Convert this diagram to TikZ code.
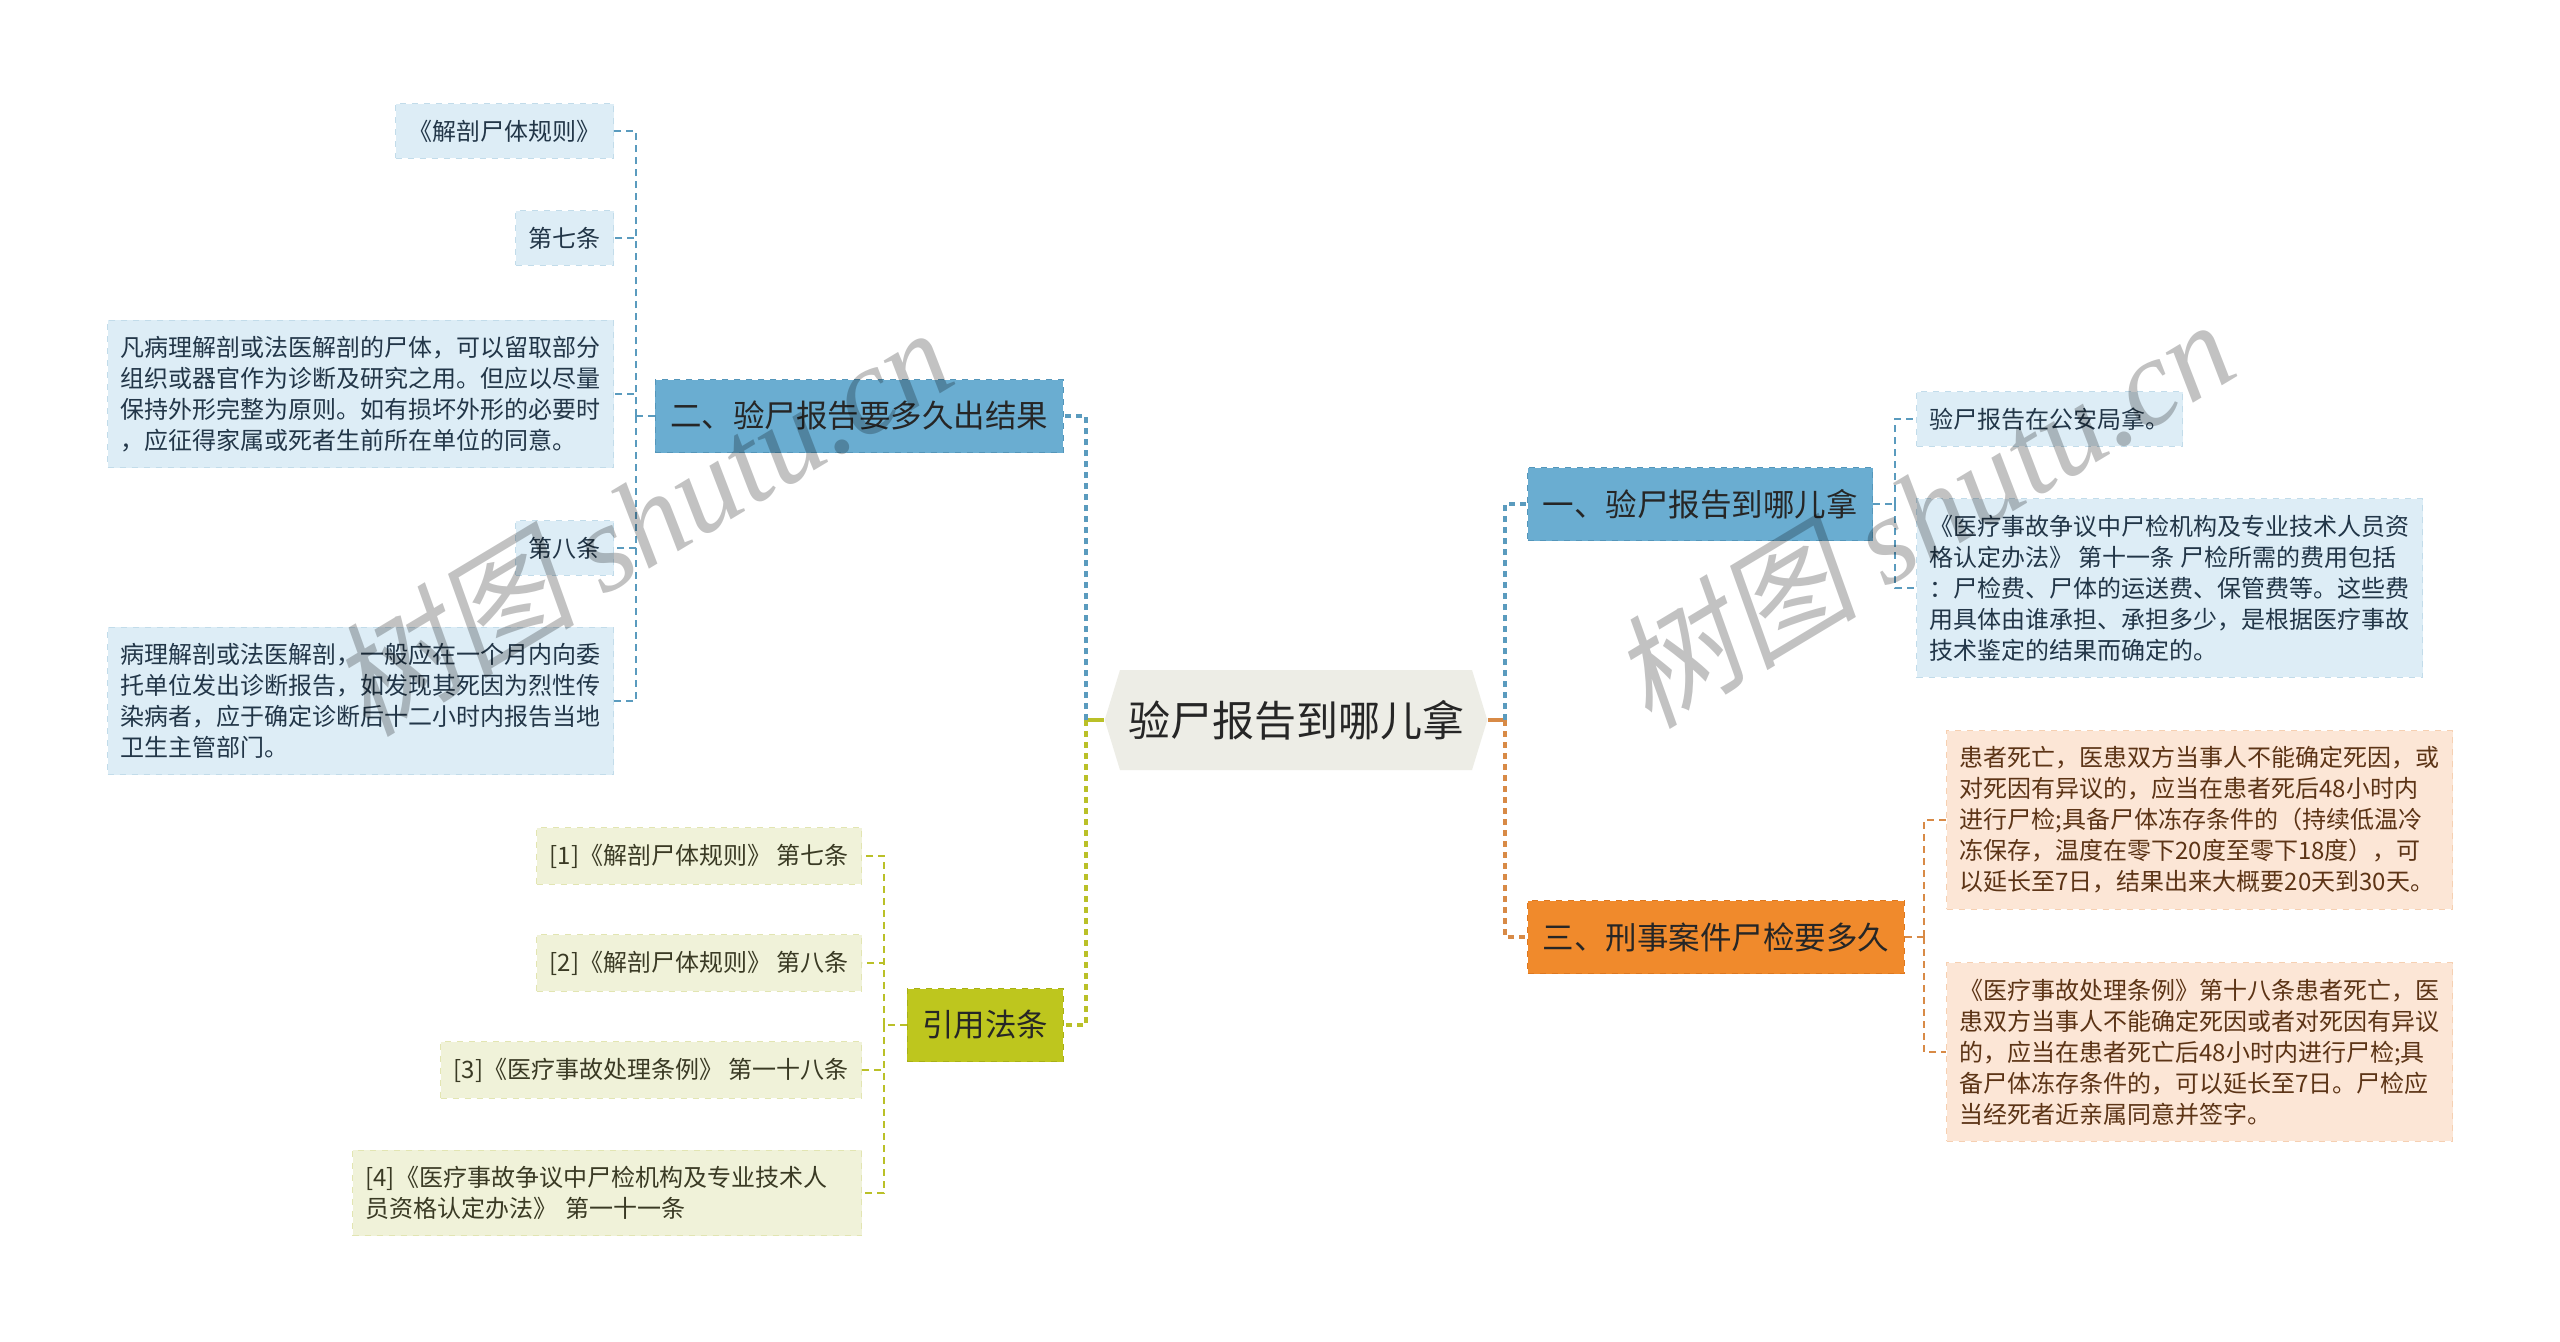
\documentclass[tikz,border=0pt]{standalone}
\usepackage{fontspec}
\setmainfont{Noto Sans CJK SC}
\newfontfamily\wmserif{Liberation Serif}
\newfontfamily\wmcjk[FakeSlant=0.2]{Noto Sans CJK SC}
\usetikzlibrary{shapes.symbols}
\definecolor{rootfill}{RGB}{237,237,230}
\definecolor{bluetopic}{RGB}{106,173,209}
\definecolor{blueedge}{RGB}{84,150,186}
\definecolor{blueline}{RGB}{90,155,190}
\definecolor{blueleaf}{RGB}{221,237,246}
\definecolor{bluetext}{RGB}{34,54,72}
\definecolor{orangetopic}{RGB}{240,138,44}
\definecolor{orangeedge}{RGB}{222,120,32}
\definecolor{orangeline}{RGB}{216,138,70}
\definecolor{orangeleaf}{RGB}{252,230,214}
\definecolor{orangetext}{RGB}{92,52,22}
\definecolor{olivetopic}{RGB}{190,198,30}
\definecolor{oliveedge}{RGB}{168,176,22}
\definecolor{oliveline}{RGB}{186,192,40}
\definecolor{oliveleaf}{RGB}{240,242,217}
\definecolor{olivetext}{RGB}{58,58,36}

\begin{document}
\begin{tikzpicture}[
    x=0.5pt, y=-0.5pt,
    root/.style={signal, signal to=west and east, signal pointer angle=146, fill=rootfill, text=black!85, font=\fontsize{21pt}{25pt}\selectfont, inner xsep=4pt, minimum height=50pt},
    topic/.style={rectangle, dashed, line width=0.6pt, text=black!85, font=\fontsize{15.75pt}{19pt}\selectfont, inner xsep=7.5pt, minimum height=36.5pt},
    leaf/.style={rectangle, dashed, line width=0.5pt, align=left, font=\fontsize{12pt}{15.5pt}\selectfont, inner xsep=6.5pt, inner ysep=8pt},
    blueleafbox/.style={leaf, fill=blueleaf, draw=blueleaf!80!blueedge, text=bluetext},
    orangeleafbox/.style={leaf, fill=orangeleaf, draw=orangeleaf!80!orangeedge, text=orangetext},
    oliveleafbox/.style={leaf, fill=oliveleaf, draw=oliveleaf!80!oliveedge, text=olivetext},
    trunk/.style={line width=1.7pt, dash pattern=on 3pt off 2.5pt},
    stem/.style={line width=1.7pt},
    twig/.style={line width=0.7pt, dash pattern=on 3.5pt off 2.5pt},
    wmark/.style={rotate=31, text=black, text opacity=0.24, font=\fontsize{62pt}{64pt}\selectfont}
]
\fill[white] (0,0) rectangle (2560,1341);
\useasboundingbox (0,0) rectangle (2560,1341);
% ---------------- centre and topics ----------------
\node[root] (root) at (1296,720) {验尸报告到哪儿拿};
\node[topic, fill=bluetopic, draw=blueedge, anchor=east] (howlong) at (1064,416) {二、验尸报告要多久出结果};
\node[topic, fill=olivetopic, draw=oliveedge, anchor=east] (cite) at (1064,1025) {引用法条};
\node[topic, fill=bluetopic, draw=blueedge, anchor=west] (where) at (1527,504) {一、验尸报告到哪儿拿};
\node[topic, fill=orangetopic, draw=orangeedge, anchor=west] (criminal) at (1527,937) {三、刑事案件尸检要多久};
% ---------------- left: how long ----------------
\node[blueleafbox, anchor=east] (rules) at (614,131) {《解剖尸体规则》};
\node[blueleafbox, anchor=east] (art7) at (614,238) {第七条};
\node[blueleafbox, anchor=east] (art7text) at (614,394) {凡病理解剖或法医解剖的尸体，可以留取部分\\组织或器官作为诊断及研究之用。但应以尽量\\保持外形完整为原则。如有损坏外形的必要时\\，应征得家属或死者生前所在单位的同意。};
\node[blueleafbox, anchor=east] (art8) at (614,548) {第八条};
\node[blueleafbox, anchor=east] (art8text) at (614,701) {病理解剖或法医解剖，一般应在一个月内向委\\托单位发出诊断报告，如发现其死因为烈性传\\染病者，应于确定诊断后十二小时内报告当地\\卫生主管部门。};
% ---------------- left: citations ----------------
\node[oliveleafbox, anchor=east] (ref1) at (862,856) {[1]《解剖尸体规则》 第七条};
\node[oliveleafbox, anchor=east] (ref2) at (862,963) {[2]《解剖尸体规则》 第八条};
\node[oliveleafbox, anchor=east] (ref3) at (862,1070) {[3]《医疗事故处理条例》 第一十八条};
\node[oliveleafbox, anchor=east, text width=241.5pt] (ref4) at (862,1193) {[4]《医疗事故争议中尸检机构及专业技术人\\员资格认定办法》 第一十一条};
% ---------------- right: where ----------------
\node[blueleafbox, anchor=west] (police) at (1916,419) {验尸报告在公安局拿。};
\node[blueleafbox, anchor=west] (cost) at (1916,588) {《医疗事故争议中尸检机构及专业技术人员资\\格认定办法》 第十一条 尸检所需的费用包括\\：尸检费、尸体的运送费、保管费等。这些费\\用具体由谁承担、承担多少，是根据医疗事故\\技术鉴定的结果而确定的。};
% ---------------- right: criminal cases ----------------
\node[orangeleafbox, anchor=west] (deadline) at (1946,820) {患者死亡，医患双方当事人不能确定死因，或\\对死因有异议的，应当在患者死后48小时内\\进行尸检;具备尸体冻存条件的（持续低温冷\\冻保存，温度在零下20度至零下18度），可\\以延长至7日，结果出来大概要20天到30天。};
\node[orangeleafbox, anchor=west] (regulation) at (1946,1052) {《医疗事故处理条例》第十八条患者死亡，医\\患双方当事人不能确定死因或者对死因有异议\\的，应当在患者死亡后48小时内进行尸检;具\\备尸体冻存条件的，可以延长至7日。尸检应\\当经死者近亲属同意并签字。};
% ---------------- trunk lines ----------------
\coordinate (ljoin) at (1086,720);
\coordinate (rjoin) at (1505,720);
\draw[stem, draw=oliveline] (root.west) -- (ljoin);
\draw[trunk, draw=blueline] (ljoin) |- (howlong.east);
\draw[trunk, draw=oliveline] (ljoin) |- (cite.east);
\draw[stem, draw=orangeline] (root.east) -- (rjoin);
\draw[trunk, draw=blueline] (rjoin) |- (where.west);
\draw[trunk, draw=orangeline] (rjoin) |- (criminal.west);
% ---------------- twig lines ----------------
\coordinate (howlongjoin) at (636,416);
\draw[twig, draw=blueline] (howlong.west) -- (howlongjoin);
\draw[twig, draw=blueline] (howlongjoin) |- (rules.east);
\draw[twig, draw=blueline] (howlongjoin) |- (art7.east);
\draw[twig, draw=blueline] (howlongjoin) |- (art7text.east);
\draw[twig, draw=blueline] (howlongjoin) |- (art8.east);
\draw[twig, draw=blueline] (howlongjoin) |- (art8text.east);
\coordinate (citejoin) at (884,1025);
\draw[twig, draw=oliveline] (cite.west) -- (citejoin);
\draw[twig, draw=oliveline] (citejoin) |- (ref1.east);
\draw[twig, draw=oliveline] (citejoin) |- (ref2.east);
\draw[twig, draw=oliveline] (citejoin) |- (ref3.east);
\draw[twig, draw=oliveline] (citejoin) |- (ref4.east);
\coordinate (wherejoin) at (1895,504);
\draw[twig, draw=blueline] (where.east) -- (wherejoin);
\draw[twig, draw=blueline] (wherejoin) |- (police.west);
\draw[twig, draw=blueline] (wherejoin) |- (cost.west);
\coordinate (criminaljoin) at (1924,937);
\draw[twig, draw=orangeline] (criminal.east) -- (criminaljoin);
\draw[twig, draw=orangeline] (criminaljoin) |- (deadline.west);
\draw[twig, draw=orangeline] (criminaljoin) |- (regulation.west);
% ---------------- watermark ----------------
\node[wmark] (wmleft) at (640,520) {{\wmcjk 树图} {\wmserif\itshape shutu.cn}};
\node[wmark] (wmright) at (1922,512) {{\wmcjk 树图} {\wmserif\itshape shutu.cn}};
\end{tikzpicture}
\end{document}
